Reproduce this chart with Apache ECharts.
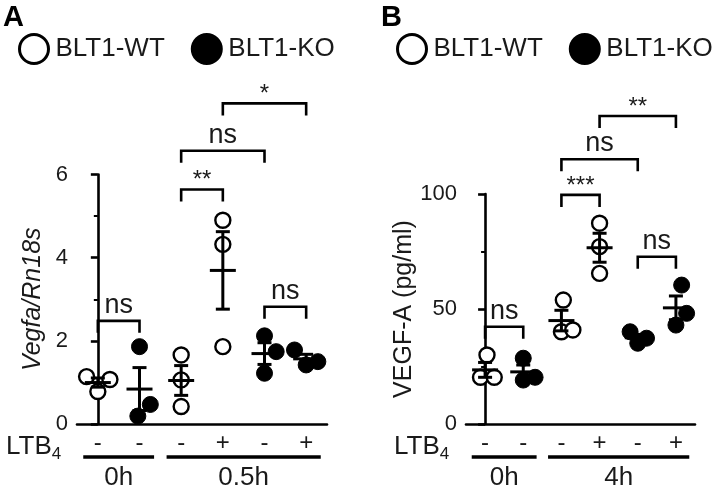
<!DOCTYPE html>
<html><head><meta charset="utf-8">
<script src="https://cdn.jsdelivr.net/npm/echarts@6/dist/echarts.min.js"></script>
<style>html,body{margin:0;padding:0;background:#fff}#c{width:721px;height:494px}</style>
</head><body><div id="c"></div>
<script>
// ---------- data ----------
const groupNames = ['WT 0h', 'KO 0h', 'WT late -', 'WT late +', 'KO late -', 'KO late +'];
const ltb4Signs = ['-', '-', '-', '+', '-', '+'];
const genotypeOfGroup = ['WT', 'KO', 'WT', 'WT', 'KO', 'KO'];
const timeGroupsA = [['0h', 0, 1], ['0.5h', 2, 5]];
const timeGroupsB = [['0h', 0, 1], ['4h', 2, 5]];
const legendNames = ['BLT1-WT', 'BLT1-KO'];
const yTitleA = 'Vegfa/Rn18s';
const yTitleB = 'VEGF-A (pg/ml)';

// Panel A: Vegfa/Rn18s per animal
const valuesA = [
  [1.14, 1.07, 0.78],
  [1.86, 0.19, 0.47],
  [1.66, 1.06, 0.42],
  [4.90, 4.32, 1.86],
  [2.12, 1.22, 1.74],
  [1.78, 1.42, 1.50]
];
const jitterA = [
  [-0.27, 0.29, 0],
  [0, -0.04, 0.26],
  [0, 0, 0],
  [0, 0, 0],
  [0, 0, 0.28],
  [-0.28, 0, 0.28]
];
// Panel B: VEGF-A (pg/ml) per animal
const valuesB = [
  [30.0, 20.3, 20.3],
  [28.6, 19.1, 20.3],
  [53.9, 40.1, 40.9],
  [87.3, 77.1, 65.5],
  [40.1, 37.3, 35.1],
  [60.4, 48.1, 43.0]
];
const jitterB = [
  [0.05, -0.12, 0.24],
  [0, 0, 0.31],
  [0.05, 0, 0.3],
  [0, 0, 0],
  [-0.2, 0.23, 0],
  [0.15, 0.28, 0]
];
// significance brackets: [fromGroup, toGroup, level, label]
const bracketsA = [[0, 1, 2.48, 'ns'], [2, 3, 5.64, '**'], [2, 4, 6.57, 'ns'], [3, 5, 7.71, '*'], [4, 5, 2.82, 'ns']];
const bracketsB = [[0, 1, 42.3, 'ns'], [2, 3, 99.6, '***'], [2, 4, 115.1, 'ns'], [3, 5, 133.9, '**'], [4, 5, 72.7, 'ns']];
const yAxisA = [0, 6, 2];
const yAxisB = [0, 100, 50];

// ---------- helpers ----------
const FONT = "'Liberation Sans', Arial, sans-serif";
const INK = '#1a1a1a';

function pointsFor(values, jitter, geno) {
  const out = [];
  values.forEach((arr, g) => {
    if (genotypeOfGroup[g] !== geno) return;
    arr.forEach((v, k) => out.push([g + jitter[g][k], v]));
  });
  return out;
}
function statsFor(values) {
  return values.map((arr, g) => {
    const n = arr.length;
    const m = arr.reduce((a, b) => a + b, 0) / n;
    const sd = Math.sqrt(arr.reduce((a, b) => a + (b - m) * (b - m), 0) / (n - 1));
    return [g, m, sd / Math.sqrt(n)];
  });
}
function renderStats(params, api) {
  const x = api.value(0), m = api.value(1), s = api.value(2);
  const c = api.coord([x, m]);
  const t = api.coord([x, m + s]);
  const b = api.coord([x, m - s]);
  const half = 13, cap = 7;
  const st = { stroke: '#000', lineWidth: 3 };
  return { type: 'group', children: [
    { type: 'line', shape: { x1: c[0] - half, y1: c[1], x2: c[0] + half, y2: c[1] }, style: st },
    { type: 'line', shape: { x1: c[0], y1: t[1], x2: c[0], y2: b[1] }, style: st },
    { type: 'line', shape: { x1: c[0] - cap, y1: t[1], x2: c[0] + cap, y2: t[1] }, style: st },
    { type: 'line', shape: { x1: c[0] - cap, y1: b[1], x2: c[0] + cap, y2: b[1] }, style: st }
  ]};
}
function makeBracketRenderer(list) {
  return function (params, api) {
    const br = list[params.dataIndex];
    const p1 = api.coord([br[0], br[2]]);
    const p2 = api.coord([br[1], br[2]]);
    const leg = 12;
    const isStar = br[3].indexOf('*') >= 0;
    return { type: 'group', children: [
      { type: 'polyline', shape: { points: [[p1[0], p1[1] + leg], [p1[0], p1[1]], [p2[0], p2[1]], [p2[0], p2[1] + leg]] },
        style: { stroke: '#000', lineWidth: 2.6, fill: null } },
      { type: 'text', x: (p1[0] + p2[0]) / 2, y: p1[1] - (isStar ? -3 : 2),
        style: { text: br[3], fill: INK, font: (isStar ? '24px ' : '27px ') + FONT,
                 textAlign: 'center', textVerticalAlign: 'bottom', align: 'center', verticalAlign: 'bottom' } }
    ]};
  };
}
function makeTimeRenderer(list) {
  return function (params, api) {
    const tg = list[params.dataIndex];
    const p1 = api.coord([tg[1] - 0.35, 0]);
    const p2 = api.coord([tg[2] + 0.35, 0]);
    const y = p1[1] + 33;
    return { type: 'group', children: [
      { type: 'line', shape: { x1: p1[0], y1: y, x2: p2[0], y2: y }, style: { stroke: '#000', lineWidth: 3.4 } },
      { type: 'text', x: (p1[0] + p2[0]) / 2, y: y + 21,
        style: { text: tg[0], fill: INK, font: '26px ' + FONT,
                 textAlign: 'center', textVerticalAlign: 'middle', align: 'center', verticalAlign: 'middle' } }
    ]};
  };
}

function yAxisCfg(gridIndex, ax, name, gap, italic) {
  return {
    type: 'value', gridIndex: gridIndex, min: ax[0], max: ax[1], interval: ax[2],
    name: name, nameLocation: 'middle', nameGap: gap,
    nameTextStyle: { fontSize: 25, fontFamily: FONT, color: INK, fontStyle: italic ? 'italic' : 'normal' },
    axisLine: { show: true, lineStyle: { color: '#000', width: 2.6 } },
    axisTick: { show: true, length: 7, lineStyle: { color: '#000', width: 2.6 } },
    minorTick: { show: true, splitNumber: 2, length: 4, lineStyle: { color: '#000', width: 2 } },
    splitLine: { show: false },
    axisLabel: { fontSize: 22, fontFamily: FONT, color: INK, margin: 9 }
  };
}
function catAxisCfg(gridIndex) {
  return {
    type: 'category', gridIndex: gridIndex, data: groupNames, boundaryGap: true,
    axisLine: { show: true, lineStyle: { color: '#000', width: 2.6 } },
    axisTick: { show: false },
    axisLabel: { formatter: (v, i) => ltb4Signs[i], fontSize: 24, fontFamily: FONT, color: INK, margin: 7 }
  };
}
function valXAxisCfg(gridIndex) {
  return { type: 'value', gridIndex: gridIndex, min: -0.5, max: 5.5, show: false };
}
function panelSeries(xi, yi, values, jitter, brackets, timeGroups) {
  return [
    { type: 'scatter', name: legendNames[0], xAxisIndex: xi, yAxisIndex: yi, symbol: 'circle', symbolSize: 15,
      itemStyle: { color: '#fff', borderColor: '#000', borderWidth: 2.4, opacity: 1 },
      data: pointsFor(values, jitter, 'WT'), z: 2 },
    { type: 'scatter', name: legendNames[1], xAxisIndex: xi, yAxisIndex: yi, symbol: 'circle', symbolSize: 16,
      itemStyle: { color: '#000', borderColor: '#000', borderWidth: 1, opacity: 1 },
      data: pointsFor(values, jitter, 'KO'), z: 2 },
    { type: 'custom', xAxisIndex: xi, yAxisIndex: yi, renderItem: renderStats, data: statsFor(values), z: 3, silent: true },
    { type: 'custom', xAxisIndex: xi, yAxisIndex: yi, renderItem: makeBracketRenderer(brackets), clip: false,
      data: brackets.map(b => [b[0], b[2]]), z: 3, silent: true },
    { type: 'custom', xAxisIndex: xi, yAxisIndex: yi, renderItem: makeTimeRenderer(timeGroups), clip: false,
      data: timeGroups.map(t => [t[1], 0]), z: 3, silent: true }
  ];
}

const chart = echarts.init(document.getElementById('c'), null, { renderer: 'canvas' });
const legendBase = {
  data: legendNames, icon: 'circle', itemWidth: 29, itemHeight: 29, itemGap: 26, orient: 'horizontal',
  itemStyle: { borderWidth: 3 }, selectedMode: false,
  textStyle: { fontSize: 26, fontFamily: FONT, color: INK, padding: [0, 0, 0, 2] }
};
const ltbText = (left) => ({
  type: 'text', left: left, top: 434,
  style: { text: 'LTB{s|4}', font: '26px ' + FONT, fill: INK,
    rich: { s: { fontSize: 17, fontFamily: FONT, fill: INK, color: INK, padding: [14, 0, 0, 0] } } }
});
chart.setOption({
  animation: false,
  backgroundColor: '#fff',
  textStyle: { fontFamily: FONT },
  grid: [
    { left: 77, top: 174.5, width: 250, height: 249.5, containLabel: false, outerBoundsMode: 'none' },
    { left: 466, top: 194, width: 229, height: 230, containLabel: false, outerBoundsMode: 'none' }
  ],
  legend: [
    Object.assign({ left: 13, top: 28 }, legendBase),
    Object.assign({ left: 391, top: 28 }, legendBase)
  ],
  xAxis: [catAxisCfg(0), valXAxisCfg(0), catAxisCfg(1), valXAxisCfg(1)],
  yAxis: [yAxisCfg(0, yAxisA, yTitleA, 31, true), yAxisCfg(1, yAxisB, yTitleB, 47, false)],
  series: [].concat(
    panelSeries(1, 0, valuesA, jitterA, bracketsA, timeGroupsA),
    panelSeries(3, 1, valuesB, jitterB, bracketsB, timeGroupsB)
  ),
  graphic: [
    { type: 'text', left: 3, top: 3, style: { text: 'A', font: 'bold 29px ' + FONT, fill: '#000' } },
    { type: 'text', left: 381, top: 3, style: { text: 'B', font: 'bold 29px ' + FONT, fill: '#000' } },
    ltbText(6),
    ltbText(394)
  ]
});
</script>
</body></html>
